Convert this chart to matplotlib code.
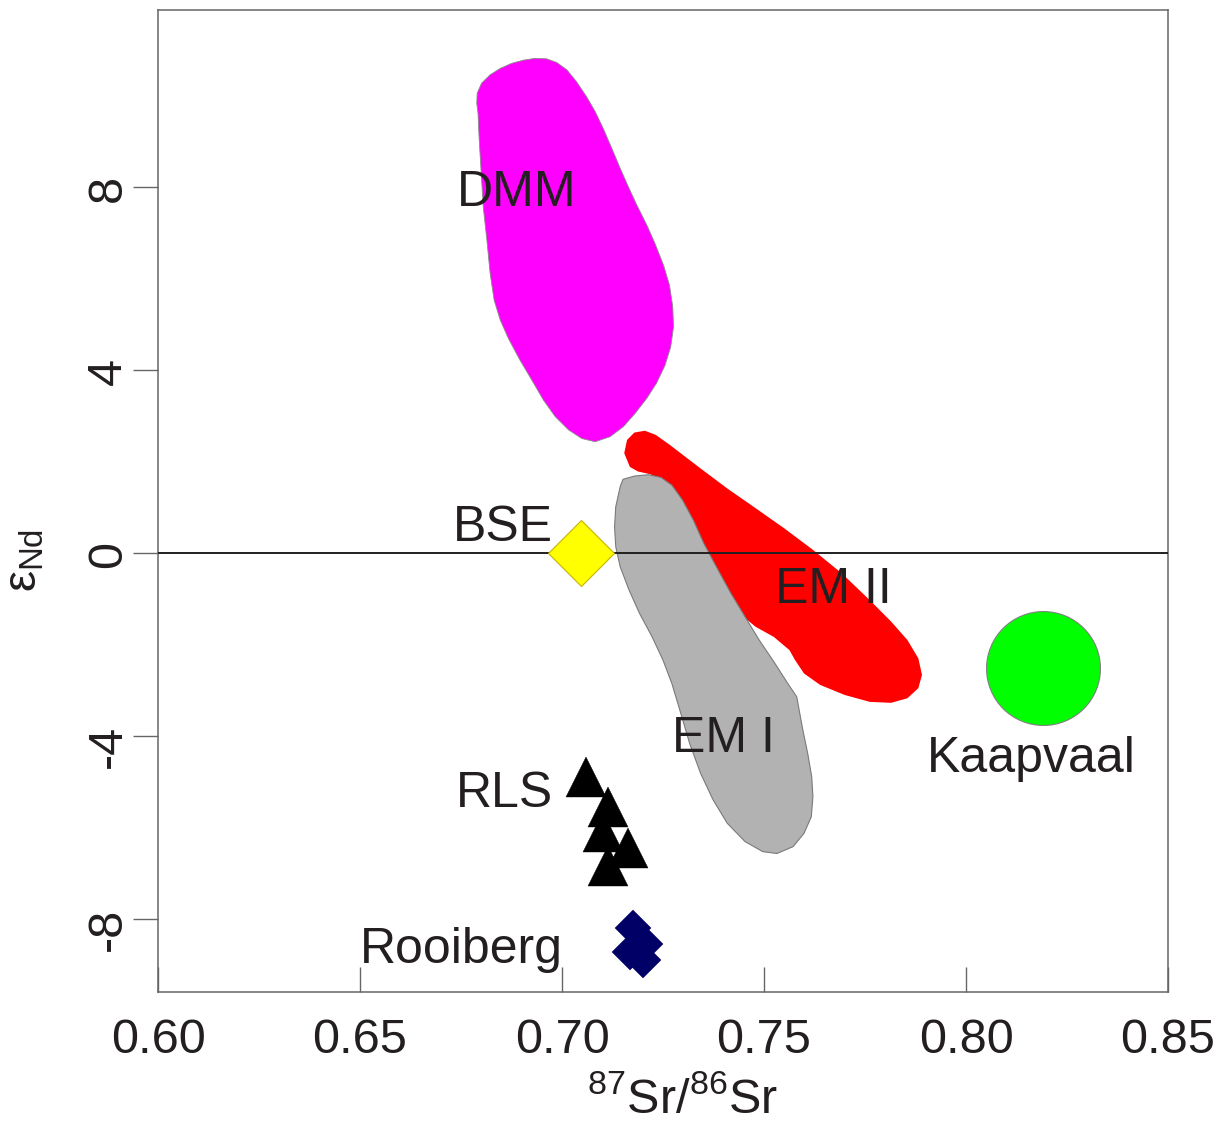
import matplotlib
matplotlib.use("Agg")
import matplotlib.pyplot as plt
from matplotlib.patches import Polygon
from matplotlib.transforms import blended_transform_factory

plt.rcParams["font.family"] = ["Liberation Sans", "DejaVu Sans"]
plt.rcParams["mathtext.fontset"] = "custom"
plt.rcParams["mathtext.rm"] = "Liberation Sans"
plt.rcParams["mathtext.it"] = "Liberation Sans"
plt.rcParams["mathtext.bf"] = "Liberation Sans:bold"

TXT = "#231f20"

# field outlines (87Sr/86Sr, eNd)
dmm_x = [0.6789, 0.6790, 0.6801, 0.6822, 0.6847, 0.6875, 0.6904, 0.6933, 0.6962, 0.6987,
         0.7012, 0.7036, 0.7061, 0.7082, 0.7102, 0.7123, 0.7144, 0.7164, 0.7185, 0.7210,
         0.7230, 0.7251, 0.7266, 0.7274, 0.7276, 0.7269, 0.7255, 0.7234, 0.7210, 0.7181,
         0.7152, 0.7119, 0.7082, 0.7049, 0.7016, 0.6983, 0.6954, 0.6925, 0.6896, 0.6867,
         0.6847, 0.6832, 0.6822, 0.6814, 0.6805, 0.6800, 0.6795, 0.6792]
dmm_y = [9.82, 10.04, 10.26, 10.44, 10.58, 10.69, 10.76, 10.80, 10.79, 10.71,
         10.55, 10.29, 9.96, 9.64, 9.27, 8.84, 8.40, 8.00, 7.60, 7.16,
         6.76, 6.29, 5.85, 5.38, 4.94, 4.50, 4.10, 3.71, 3.38, 3.05,
         2.76, 2.54, 2.43, 2.50, 2.69, 2.98, 3.34, 3.78, 4.21, 4.69,
         5.09, 5.52, 6.11, 6.83, 7.56, 8.29, 9.02, 9.60]

em2_x = [0.7154, 0.7161, 0.7179, 0.7205, 0.7232, 0.7267, 0.7338, 0.7409, 0.7479, 0.7550,
         0.7621, 0.7692, 0.7762, 0.7815, 0.7855, 0.7882, 0.7891, 0.7882, 0.7855, 0.7815,
         0.7762, 0.7700, 0.7639, 0.7599, 0.7577, 0.7563, 0.7524, 0.7479, 0.7449, 0.7410,
         0.7355, 0.7300, 0.7275, 0.7245, 0.7219, 0.7188, 0.7168]
em2_y = [2.18, 2.47, 2.63, 2.67, 2.58, 2.36, 1.88, 1.41, 0.98, 0.54,
         0.07, -0.44, -1.03, -1.50, -1.90, -2.30, -2.66, -2.95, -3.17, -3.27,
         -3.25, -3.10, -2.88, -2.63, -2.34, -2.12, -1.83, -1.61, -1.39, -1.03,
         -0.22, 0.66, 1.22, 1.55, 1.72, 1.78, 1.88]

em1_x = [0.7144, 0.7151, 0.7179, 0.7214, 0.7245, 0.7272, 0.7298, 0.7325, 0.7351, 0.7382,
         0.7418, 0.7453, 0.7488, 0.7524, 0.7559, 0.7581, 0.7587, 0.7596, 0.7608, 0.7618,
         0.7621, 0.7617, 0.7599, 0.7572, 0.7532, 0.7497, 0.7453, 0.7409, 0.7374, 0.7343,
         0.7316, 0.7294, 0.7272, 0.7250, 0.7223, 0.7192, 0.7166, 0.7144, 0.7133, 0.7130,
         0.7133]
em1_y = [1.45, 1.61, 1.68, 1.71, 1.65, 1.48, 1.16, 0.72, 0.21, -0.30,
         -0.88, -1.39, -1.90, -2.37, -2.85, -3.14, -3.43, -3.86, -4.37, -4.88,
         -5.32, -5.76, -6.12, -6.41, -6.56, -6.52, -6.30, -5.90, -5.39, -4.81,
         -4.16, -3.50, -2.85, -2.34, -1.83, -1.32, -0.81, -0.30, 0.14, 0.57,
         1.01]

# point data
bse_x, bse_y = [0.7047], [0.0]
kaap_x, kaap_y = [0.8191], [-2.51]
rls_x = [0.7059, 0.7114, 0.7101, 0.7163, 0.7114]
rls_y = [-4.88, -5.55, -6.10, -6.43, -6.84]
rooi_x = [0.7176, 0.7205, 0.7168, 0.7200]
rooi_y = [-8.19, -8.54, -8.71, -8.89]

labels = ["DMM", "BSE", "EM II", "EM I", "RLS", "Rooiberg", "Kaapvaal"]
label_x = [0.6740, 0.6730, 0.7527, 0.7272, 0.6738, 0.6500, 0.7903]
label_y = [7.58, 0.26, -1.09, -4.34, -5.55, -8.95, -4.78]

xticks = [0.60, 0.65, 0.70, 0.75, 0.80, 0.85]
xticklabels = ["0.60", "0.65", "0.70", "0.75", "0.80", "0.85"]
yticks = [-8, -4, 0, 4, 8]
yticklabels = ["-8", "-4", "0", "4", "8"]

fig = plt.figure(figsize=(12.26, 11.24), dpi=100)
ax = fig.add_axes([0.1289, 0.1174, 0.8238, 0.8737])
ax.set_xlim(0.60, 0.85)
ax.set_ylim(-9.585, 11.856)

ax.add_patch(Polygon(list(zip(dmm_x, dmm_y)), closed=True, fc="#ff00ff",
                     ec="#8a8a8a", lw=0.6, joinstyle="round", zorder=1))
ax.add_patch(Polygon(list(zip(em2_x, em2_y)), closed=True, fc="#ff0000",
                     ec="none", zorder=2))
ax.add_patch(Polygon(list(zip(em1_x, em1_y)), closed=True, fc="#b2b2b2",
                     ec="#7a7a7a", lw=0.8, joinstyle="round", zorder=3))

ax.axhline(0, color=TXT, lw=1.4, zorder=4)

ax.plot(bse_x, bse_y, ls="none", marker="D", ms=34, mfc="#ffff00",
        mec="#c8b400", mew=0.8, zorder=5)
ax.plot(kaap_x, kaap_y, ls="none", marker="o", ms=82, mfc="#00ff00",
        mec="#808080", mew=0.8, zorder=5)
ax.plot(rls_x, rls_y, ls="none", marker="^", ms=29, mfc="black",
        mec="black", mew=0.3, zorder=5)
ax.plot(rooi_x, rooi_y, ls="none", marker="D", ms=18, mfc="#000066",
        mec="#000066", mew=0.3, zorder=5)

for t, x, y in zip(labels, label_x, label_y):
    ax.text(x, y, t, fontsize=36, color=TXT, ha="left", va="baseline", zorder=6)

for s in ax.spines.values():
    s.set_color("#666666")
    s.set_linewidth(1.1)

ax.set_xticks(xticks)
ax.set_xticklabels(xticklabels, fontsize=35, color=TXT)
ax.tick_params(axis="x", direction="in", length=18, width=1.0,
               color="#666666", pad=19)

ax.set_yticks(yticks)
ax.set_yticklabels([])
ax.tick_params(axis="y", direction="out", length=18, width=1.0, color="#666666")
ytr = blended_transform_factory(ax.transAxes, ax.transData)
for y, t in zip(yticks, yticklabels):
    ax.annotate(t, xy=(0, y), xycoords=ytr, xytext=(-19.5, 8.5),
                textcoords="offset points", rotation=90, ha="right", va="top",
                fontsize=35, color=TXT, annotation_clip=False)

ax.text(0.519, -0.1232, r"$^{87}$Sr/$^{86}$Sr", transform=ax.transAxes,
        ha="center", va="baseline", fontsize=35, color=TXT)
ax.text(-0.110, 0.44, r"$\varepsilon_{\mathrm{Nd}}$", transform=ax.transAxes,
        ha="right", va="center", rotation=90, fontsize=34, color=TXT)

fig.savefig("out.png", dpi=100)
